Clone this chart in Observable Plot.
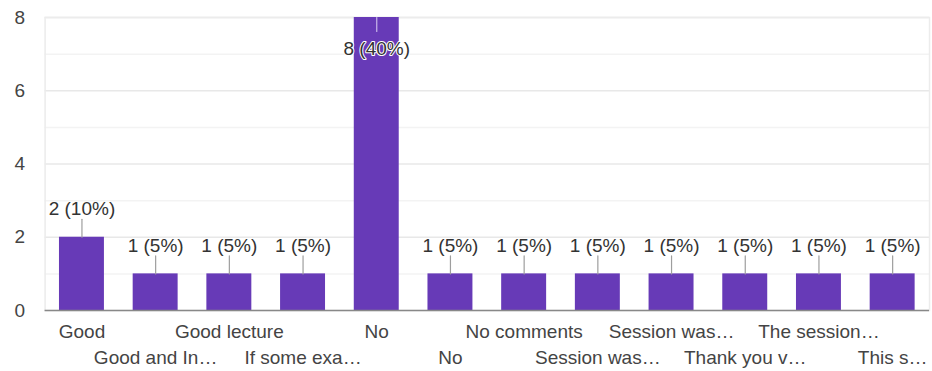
<!DOCTYPE html>
<html><head><meta charset="utf-8">
<script src="https://cdn.jsdelivr.net/npm/d3@7"></script>
<script src="https://cdn.jsdelivr.net/npm/@observablehq/plot@0.6"></script>
<style>html,body{margin:0;padding:0;background:#fff;overflow:hidden}</style>
</head><body><div id="chart"></div>
<script>
const categories = ["Good","Good and In…","Good lecture","If some exa…","No","No","No comments","Session was…","Session was…","Thank you v…","The session…","This s…"];
const counts = [2,1,1,1,8,1,1,1,1,1,1,1];
const percents = [10,5,5,5,40,5,5,5,5,5,5,5];
const yTicks = [0,2,4,6,8];
const yMinorTicks = [1,3,5,7];

const yMax = d3.max(yTicks);
const data = categories.map((c, i) => ({i, label: c, value: counts[i], pct: percents[i]}));
const outside = data.filter(d => d.value < yMax);
const inside = data.filter(d => d.value >= yMax);
const idx = d3.range(categories.length);
const even = idx.filter(i => i % 2 === 0);
const odd = idx.filter(i => i % 2 === 1);
const fmt = d => `${d.value} (${d.pct}%)`;
const line = {draw(ctx, l) { ctx.moveTo(0, 0); ctx.lineTo(0, -l); }};

const chart = Plot.plot({
  width: 932,
  height: 371,
  marginLeft: 44.6,
  marginRight: 3,
  marginTop: 17,
  marginBottom: 61,
  style: {fontFamily: "'Liberation Sans', Arial, sans-serif", fontSize: "19px", color: "#444", background: "#fff"},
  x: {type: "band", domain: idx, paddingInner: 0.39, paddingOuter: 0.195, round: false, axis: null},
  y: {domain: [0, yMax], axis: null},
  marks: [
    Plot.ruleY(yMinorTicks, {stroke: "#f3f3f3", strokeWidth: 1.5}),
    Plot.ruleY(yTicks.filter(v => v > 0), {stroke: "#e8e8e8", strokeWidth: 1.5}),
    Plot.frame({stroke: "#ececec", strokeWidth: 1.5}),
    Plot.barY(data, {x: "i", y: "value", fill: "#673ab7"}),
    Plot.ruleY([0], {stroke: "#888", strokeWidth: 1.5}),
    Plot.vector(outside, {x: "i", y: "value", length: 18, rotate: 0, anchor: "start", shape: line, stroke: "#9e9e9e", strokeWidth: 1.2}),
    Plot.vector(inside, {x: "i", y: "value", length: 14, rotate: 180, anchor: "start", shape: line, stroke: "#c9b8ea", strokeWidth: 1.2}),
    Plot.text(outside, {x: "i", y: "value", text: fmt, dy: -28, fill: "#333", fontSize: 19}),
    Plot.text(inside, {x: "i", y: "value", text: fmt, dy: 31, fill: "#333", stroke: "#fff", strokeWidth: 2, fontSize: 19}),
    Plot.axisY(yTicks, {tickSize: 0, tickPadding: 20, fontSize: 19, fill: "#444", label: null}),
    Plot.axisX(even, {tickSize: 0, tickPadding: 14, tickFormat: i => categories[i], fontSize: 19, fill: "#444", label: null}),
    Plot.axisX(odd, {tickSize: 0, tickPadding: 40, tickFormat: i => categories[i], fontSize: 19, fill: "#444", label: null})
  ]
});
document.getElementById("chart").append(chart);
</script>
</body></html>
